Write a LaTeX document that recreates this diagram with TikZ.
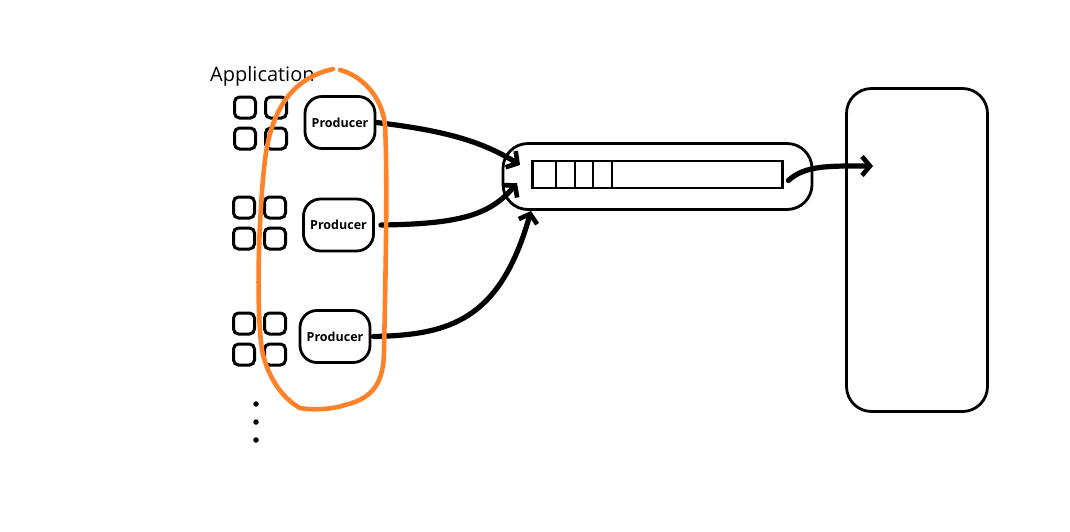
\documentclass[tikz,border=0pt]{standalone}
\usepackage{fontspec}
\setmainfont{Open Sans}
\usetikzlibrary{arrows.meta}
\definecolor{hlorange}{HTML}{FF8228}
\begin{document}
\begin{tikzpicture}[x=1pt,y=-1pt,
  sq/.style={draw,line width=3pt,rounded corners=5pt,minimum width=21pt,minimum height=21pt,inner sep=0pt},
  prod/.style={draw,line width=2.8pt,rounded corners=17pt,minimum width=70pt,minimum height=52pt,inner sep=0pt,font=\bfseries\fontsize{12.5}{13}\selectfont},
  bigbox/.style={draw,line width=2.8pt,inner sep=0pt},
  flow/.style={line width=5.2pt,line cap=round,-{Straight Barb[length=8pt,width=19pt,line width=4.6pt]}},
  dot/.style={circle,fill,inner sep=0pt,minimum size=5.5pt}]
\useasboundingbox (0,0) rectangle (1070,531);
% application label
\node[anchor=west,font=\fontsize{20}{22}\selectfont,inner sep=0pt] (app) at (210,76) {Application};
% square groups
\foreach \g/\xa/\ya in {1/245/107.5,2/244/207.5,3/244/323.5}{
  \node[sq] (s\g a) at (\xa,\ya) {};
  \node[sq] (s\g b) at (\xa+31,\ya) {};
  \node[sq] (s\g c) at (\xa,\ya+31) {};
  \node[sq] (s\g d) at (\xa+31,\ya+31) {};
}
% producers
\node[prod] (p1) at (340,122.5) {Producer};
\node[prod] (p2) at (338.5,225) {Producer};
\node[prod] (p3) at (335,336.5) {Producer};
% queue
\node[bigbox,rounded corners=25pt,minimum width=309pt,minimum height=66pt] (queue) at (657.5,176.5) {};
\node[bigbox,line width=2.6pt,minimum width=250pt,minimum height=27pt] (inner) at (657.5,174.5) {};
\foreach \xx in {556,575,593,612}{
  \draw[line width=2pt] (\xx,161) -- (\xx,188);
}
% consumer box
\node[bigbox,rounded corners=25pt,minimum width=141pt,minimum height=323pt] (cons) at (917,250) {};
% arrows
\coordinate (q1) at (520,165);
\coordinate (q2) at (517,183);
\coordinate (q3) at (531,211);
\coordinate (out) at (873,166);
\draw[flow] (p1.east) .. controls (440,130) and (480,140) .. (q1);
\draw[flow] ([xshift=6pt]p2.east) .. controls (460,224) and (490,215) .. (q2);
\draw[flow] ([xshift=2pt]p3.east) .. controls (450,335) and (500,320) .. (q3);
\draw[flow] ([xshift=-25pt,yshift=-4pt]queue.east) .. controls (805,165) and (830,166) .. (out);
% orange outline
\draw[hlorange,line width=4.6pt,line cap=round,line join=round]
  (340,70) .. controls (360,75) and (382,95) .. (385,125)
  .. controls (388,180) and (385,300) .. (384,350)
  .. controls (384,380) and (375,398) .. (345,405)
  .. controls (330,410) and (310,410) .. (300,408)
  .. controls (285,400) and (268,380) .. (262,350)
  .. controls (255,300) and (260,200) .. (265,160)
  .. controls (270,120) and (285,80) .. (333,69);
% dots
\node[dot] (d1) at (256,404) {};
\node[dot] (d2) at (256,422) {};
\node[dot] (d3) at (256,440) {};
\end{tikzpicture}
\end{document}
